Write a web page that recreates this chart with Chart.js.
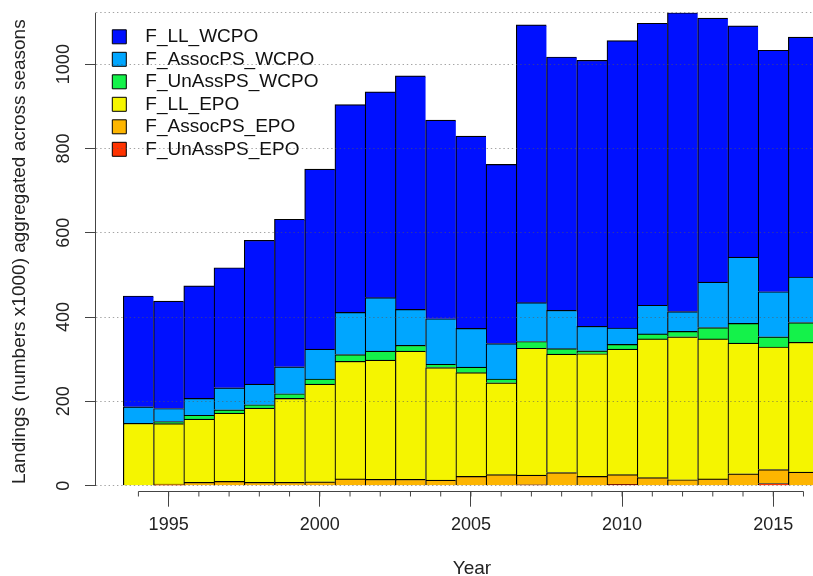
<!DOCTYPE html>
<html>
<head>
<meta charset="utf-8">
<script src="https://cdn.jsdelivr.net/npm/chart.js@4.4.1/dist/chart.umd.min.js"></script>
<style>
  html, body { margin: 0; padding: 0; overflow: hidden; background: #fff; }
  #wrap { width: 848px; height: 576px; }
</style>
</head>
<body>
<div id="wrap"><canvas id="landings" width="848" height="576"></canvas></div>
<script>
// years shown (the last bar is cut by the picture edge)
const years = [1994, 1995, 1996, 1997, 1998, 1999, 2000, 2001, 2002, 2003, 2004, 2005,
               2006, 2007, 2008, 2009, 2010, 2011, 2012, 2013, 2014, 2015, 2016];

// landings (numbers x1000), bottom of the stack first
const F_UnAssPS_EPO  = [0, 1, 0, 0, 0, 0, 0, 0, 0, 0, 0, 0, 0, 2, 0, 0, 3, 0, 0, 0, 0, 5, 0];
const F_AssocPS_EPO  = [0, 3, 8, 10, 8, 8, 9, 16, 15, 15, 13, 22, 26, 23, 31, 22, 23, 19, 14, 16, 28, 33, 32];
const F_LL_EPO       = [148, 143, 150, 162, 176, 199, 232, 279, 283, 304, 267, 246, 218, 301, 281, 291, 298, 329, 339, 332, 310, 291, 308];
const F_UnAssPS_WCPO = [0, 5, 9, 8, 8, 11, 12, 16, 21, 14, 8, 13, 9, 16, 13, 7, 11, 12, 13, 27, 47, 24, 47];
const F_AssocPS_WCPO = [39, 31, 40, 52, 49, 64, 71, 100, 127, 85, 108, 92, 84, 92, 91, 58, 39, 68, 47, 108, 157, 107, 108];
const F_LL_WCPO      = [263, 255, 267, 285, 341, 350, 427, 493, 488, 554, 471, 456, 425, 659, 601, 631, 682, 669, 709, 626, 549, 573, 569];

const xTicks = [1995, 2000, 2005, 2010, 2015];
const yTicks = [0, 200, 400, 600, 800, 1000];
const yMax = 1122;

const axisCol = '#444';
const textCol = '#222';
Chart.defaults.font.family = '"Liberation Sans", Arial, Helvetica, sans-serif';

const series = [
  { label: 'F_UnAssPS_EPO',  data: F_UnAssPS_EPO,  color: '#FF3300' },
  { label: 'F_AssocPS_EPO',  data: F_AssocPS_EPO,  color: '#FDB500' },
  { label: 'F_LL_EPO',       data: F_LL_EPO,       color: '#F5F500' },
  { label: 'F_UnAssPS_WCPO', data: F_UnAssPS_WCPO, color: '#14F24A' },
  { label: 'F_AssocPS_WCPO', data: F_AssocPS_WCPO, color: '#00A6FF' },
  { label: 'F_LL_WCPO',      data: F_LL_WCPO,      color: '#0010FF' }
];

// R style axes: line only across the tick range, short minor ticks every year
const rAxes = {
  id: 'rAxes',
  afterDraw(chart) {
    const ctx = chart.ctx, sx = chart.scales.x, sy = chart.scales.y;
    const yb = Math.round(chart.chartArea.bottom) + 0.5;
    const xl = chart.chartArea.left - 0.5;
    ctx.save();
    ctx.strokeStyle = axisCol;
    ctx.lineWidth = 1;
    ctx.beginPath();
    ctx.moveTo(sx.getPixelForValue(years[0]), yb);
    ctx.lineTo(sx.getPixelForValue(years[years.length - 1]), yb);
    years.forEach(yr => {
      const px = sx.getPixelForValue(yr);
      ctx.moveTo(px, yb);
      ctx.lineTo(px, yb + 5);
    });
    ctx.moveTo(xl, sy.getPixelForValue(0));
    ctx.lineTo(xl, sy.getPixelForValue(yMax));
    ctx.stroke();
    ctx.restore();
  }
};

// legend sits inside the plot, a bit in from the corner
const nudgeLegend = {
  id: 'nudgeLegend',
  afterLayout(chart) {
    const lg = chart.legend;
    lg.left += 12.8; lg.right += 12.8;
    lg.top += 23.8; lg.bottom += 23.8;
  }
};

new Chart(document.getElementById('landings'), {
  type: 'bar',
  data: {
    labels: years,
    datasets: series.map(s => ({
      label: s.label,
      data: s.data,
      backgroundColor: s.color,
      borderColor: '#000',
      borderWidth: { top: 1.2, left: 1.2, right: 0, bottom: 0 },
      borderSkipped: false,
      grouped: false,
      barPercentage: 1,
      categoryPercentage: 1
    }))
  },
  options: {
    responsive: false,
    animation: false,
    devicePixelRatio: 1,
    layout: { padding: { top: 12.7, right: 0, bottom: 0, left: 0 } },
    plugins: {
      tooltip: { enabled: false },
      legend: {
        position: 'chartArea',
        align: 'start',
        reverse: true,
        labels: {
          boxWidth: 14,
          boxHeight: 14,
          padding: 3.5,
          color: '#111',
          font: { size: 19 },
          generateLabels: chart =>
            Chart.defaults.plugins.legend.labels.generateLabels(chart).map(l =>
              Object.assign(l, { text: '\u2002' + l.text, lineWidth: 1 }))
        }
      }
    },
    scales: {
      x: {
        type: 'linear',
        position: 'bottom',
        min: 1992.597,
        max: 2017.473,
        offset: false,
        afterFit: s => { s.height = 85.3; },
        afterBuildTicks: s => { s.ticks = xTicks.map(v => ({ value: v })); },
        grid: { offset: false, drawOnChartArea: false, tickLength: 16, tickColor: axisCol },
        border: { display: false },
        ticks: {
          autoSkip: false, maxRotation: 0, padding: 9.3, color: textCol,
          font: { size: 18, lineHeight: 1 },
          callback: v => String(v)
        },
        title: {
          display: true, text: 'Year', color: textCol,
          font: { size: 19, lineHeight: 1 },
          padding: { top: 0, bottom: -2 }
        }
      },
      y: {
        stacked: true,
        position: 'left',
        min: -12,
        max: yMax,
        afterFit: s => { s.width = 96; },
        afterBuildTicks: s => { s.ticks = yTicks.concat([yMax]).map(v => ({ value: v })); },
        grid: {
          z: 1,
          color: 'rgba(90,90,90,0.55)',
          lineWidth: 1,
          tickLength: 11,
          tickColor: c => (c.tick && c.tick.value === yMax) ? 'rgba(0,0,0,0)' : axisCol
        },
        border: { display: false, dash: [1.4, 2.8] },
        ticks: {
          minRotation: 90, maxRotation: 90,
          crossAlign: 'center',
          padding: 1.2,
          color: textCol,
          font: { size: 18 },
          callback: v => v === yMax ? '' : String(v)
        },
        title: {
          display: true,
          text: 'Landings (numbers x1000) aggregated across seasons',
          color: textCol,
          font: { size: 19, lineHeight: 1 },
          padding: { top: 10.4, bottom: 0 }
        }
      }
    }
  },
  plugins: [rAxes, nudgeLegend]
});
</script>
</body>
</html>
